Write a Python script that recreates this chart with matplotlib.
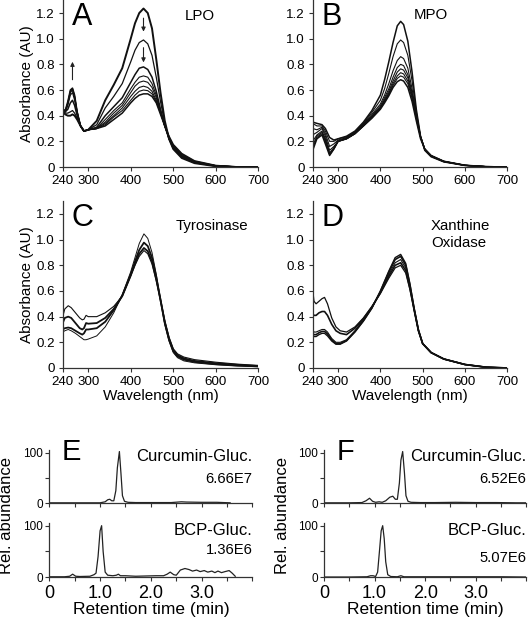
import numpy as np
import matplotlib
matplotlib.use("Agg")
import matplotlib.pyplot as plt

plt.rcParams['font.family'] = ['Liberation Sans', 'DejaVu Sans']

# ---------------- spectra data (absorbance, AU) ----------------
wl_a = [240, 246, 252, 258, 263, 268, 274, 282, 290, 300, 320, 340, 360, 380, 400, 410,
        420, 430, 440, 450, 460, 470, 480, 490, 500, 520, 550, 600, 650, 700]
lpo = [
    [.43, .41, .40, .40, .41, .40, .37, .32, .28, .29, .36, .52, .64, .77, 1.00, 1.12,
     1.20, 1.235, 1.20, 1.08, .84, .58, .36, .22, .14, .07, .03, .006, 0, 0],
    [.43, .42, .42, .43, .44, .42, .38, .32, .28, .29, .33, .46, .55, .65, .82, .91,
     .97, .99, .96, .87, .70, .51, .34, .22, .145, .075, .033, .007, 0, 0],
    [.44, .43, .45, .50, .52, .48, .40, .32, .28, .29, .31, .40, .47, .54, .66, .72,
     .77, .78, .76, .70, .59, .45, .32, .22, .15, .08, .036, .008, 0, 0],
    [.44, .43, .48, .56, .58, .52, .42, .32, .28, .29, .30, .37, .44, .50, .61, .66,
     .70, .71, .70, .65, .56, .44, .32, .22, .155, .085, .038, .009, .001, 0],
    [.45, .43, .49, .58, .60, .54, .42, .32, .28, .29, .30, .35, .42, .48, .58, .63,
     .66, .67, .66, .62, .54, .43, .32, .225, .16, .09, .04, .01, .001, 0],
    [.45, .43, .50, .59, .61, .55, .43, .32, .28, .29, .30, .34, .40, .46, .55, .59,
     .62, .63, .62, .59, .52, .42, .32, .23, .165, .095, .042, .01, .001, 0],
    [.45, .44, .50, .59, .61, .55, .43, .32, .28, .29, .30, .33, .39, .44, .52, .56,
     .59, .60, .595, .57, .51, .42, .32, .235, .17, .10, .045, .011, .001, 0],
    [.45, .44, .51, .60, .615, .56, .43, .32, .28, .29, .30, .32, .37, .42, .50, .535,
     .56, .57, .57, .55, .50, .41, .32, .24, .175, .105, .048, .012, .001, 0],
]
lpo_lw = [1.4, 0.9, 1.1, 0.8, 0.8, 0.8, 0.8, 1.1]

wl_b = [240, 250, 262, 270, 280, 290, 300, 320, 340, 360, 380, 400, 410, 420, 430, 440,
        448, 455, 465, 475, 485, 495, 505, 520, 550, 600, 650, 700]
mpo = [
    [.35, .34, .33, .30, .23, .21, .22, .24, .28, .35, .44, .56, .68, .82, .97, 1.10,
     1.135, 1.11, .98, .74, .45, .24, .13, .08, .04, .012, .003, 0],
    [.34, .32, .32, .28, .20, .20, .22, .235, .275, .34, .425, .52, .61, .73, .86, .96,
     .99, .97, .87, .67, .43, .24, .135, .082, .041, .012, .003, 0],
    [.30, .29, .31, .26, .16, .18, .21, .23, .27, .335, .41, .49, .56, .65, .75, .83,
     .86, .845, .77, .61, .41, .24, .14, .085, .042, .013, .003, 0],
    [.25, .27, .30, .24, .13, .16, .20, .225, .265, .33, .40, .475, .54, .61, .70, .775,
     .80, .79, .72, .58, .40, .235, .14, .086, .043, .013, .003, 0],
    [.20, .25, .28, .22, .11, .15, .20, .22, .26, .325, .395, .465, .525, .59, .67, .74,
     .765, .755, .695, .565, .39, .235, .14, .087, .044, .013, .003, 0],
    [.17, .24, .27, .21, .10, .145, .20, .22, .26, .32, .39, .46, .515, .575, .65, .71,
     .735, .725, .67, .55, .385, .235, .14, .088, .044, .013, .003, 0],
    [.15, .23, .26, .20, .095, .14, .20, .22, .26, .32, .385, .455, .51, .565, .635, .69,
     .71, .70, .65, .535, .375, .23, .14, .088, .045, .014, .003, 0],
    [.13, .22, .25, .18, .09, .14, .20, .22, .26, .32, .38, .45, .50, .555, .62, .665,
     .68, .67, .62, .51, .36, .22, .14, .09, .045, .014, .003, 0],
]
mpo_lw = [1.1, 0.8, 0.8, 0.8, 0.8, 0.8, 0.8, 1.1]

wl_c = [240, 245, 253, 260, 270, 280, 286, 290, 295, 300, 320, 340, 360, 380, 400, 410,
        420, 431, 440, 450, 460, 470, 480, 490, 500, 510, 525, 550, 600, 650, 700]
tyr = [
    [.40, .46, .485, .47, .43, .39, .375, .38, .41, .40, .40, .43, .48, .56, .72, .80,
     .87, .915, .89, .81, .68, .53, .37, .24, .15, .11, .085, .065, .045, .03, .02],
    [.35, .39, .40, .39, .35, .31, .30, .31, .35, .345, .35, .39, .46, .56, .72, .81,
     .89, .935, .91, .83, .69, .53, .36, .23, .14, .10, .075, .055, .037, .025, .015],
    [.30, .31, .315, .31, .29, .27, .26, .27, .30, .30, .31, .36, .45, .565, .73, .83,
     .92, .977, .95, .86, .71, .53, .35, .22, .13, .09, .065, .047, .03, .02, .012],
    [.28, .29, .30, .29, .27, .245, .23, .22, .22, .225, .25, .32, .43, .57, .75, .86,
     .97, 1.045, 1.01, .90, .73, .53, .34, .21, .12, .08, .055, .04, .025, .015, .01],
]
tyr_lw = [0.8, 1.3, 1.3, 0.7]

wl_d = [240, 243, 248, 255, 262, 268, 275, 285, 295, 305, 320, 340, 360, 380, 400, 420,
        435, 448, 460, 470, 480, 490, 500, 520, 550, 600, 650, 700]
xod = [
    [.61, .52, .50, .52, .54, .55, .50, .39, .32, .29, .28, .32, .39, .48, .58, .70,
     .78, .80, .74, .61, .45, .29, .19, .12, .07, .027, .006, 0],
    [.42, .41, .41, .43, .44, .44, .41, .34, .29, .27, .26, .31, .385, .475, .585, .715,
     .80, .82, .76, .62, .45, .29, .19, .12, .07, .027, .006, 0],
    [.30, .28, .28, .29, .30, .30, .28, .23, .20, .20, .22, .29, .375, .47, .59, .73,
     .82, .845, .78, .63, .455, .29, .19, .12, .07, .027, .006, 0],
    [.27, .26, .26, .275, .285, .285, .265, .22, .19, .19, .215, .285, .37, .47, .595, .745,
     .845, .87, .80, .645, .46, .295, .19, .12, .07, .027, .006, 0],
    [.25, .245, .245, .26, .27, .27, .25, .21, .185, .185, .21, .28, .365, .465, .60, .755,
     .86, .885, .815, .655, .465, .30, .19, .12, .07, .027, .006, 0],
]
xod_lw = [0.9, 1.2, 0.8, 1.2, 1.0]

# arrows in panel A: (x, y_start, y_end)
lpo_arrows = [(263, 0.68, 0.82), (430, 1.16, 1.055), (430, 0.93, 0.815)]

# ---------------- chromatogram data (rel. abundance) ----------------
e_cur_t = [0, 0.5, 1.0, 1.1, 1.15, 1.19, 1.23, 1.27, 1.31, 1.34, 1.38, 1.41, 1.44, 1.48,
           1.55, 1.7, 2.0, 2.4, 2.6, 2.7, 3.0, 3.3, 3.56]
e_cur_v = [1, 1, 1, 3, 7, 8, 5, 5, 25, 70, 102, 60, 15, 4, 2, 1.5, 1.5, 1.5, 3, 2.5, 2, 2, 1]
e_bcp_t = [0, 0.3, 0.4, 0.46, 0.52, 0.6, 0.8, 0.88, 0.92, 0.96, 1.0, 1.03, 1.06, 1.1, 1.15,
           1.25, 1.32, 1.36, 1.4, 1.5, 1.7, 1.9, 2.1, 2.25, 2.32, 2.38, 2.45, 2.5, 2.58, 2.67,
           2.75, 2.82, 2.9, 2.97, 3.05, 3.12, 3.2, 3.26, 3.32, 3.39, 3.46, 3.54, 3.6, 3.66]
e_bcp_v = [1, 1, 2, 6, 2, 1.5, 2, 5, 8, 40, 90, 100, 50, 10, 4, 3, 4, 6, 3, 3, 2, 2.5, 3, 3,
           6, 10, 5, 4, 14, 17, 15, 12, 14, 11, 13, 10, 12, 9, 12, 9, 11, 13, 8, 2]
f_cur_t = [0, 0.5, 0.75, 0.83, 0.9, 0.96, 1.02, 1.09, 1.15, 1.22, 1.3, 1.36, 1.41, 1.45,
           1.49, 1.52, 1.555, 1.59, 1.62, 1.66, 1.72, 1.9, 2.2, 2.6, 3.0, 3.4, 3.8, 4.0]
f_cur_v = [1, 1, 1.5, 5, 10, 4, 2, 3, 2, 5, 12, 14, 8, 8, 40, 85, 102, 60, 15, 4, 2, 1.5,
           1.5, 2, 1.5, 1.5, 1, 1]
f_bcp_t = [0, 0.5, 0.85, 0.92, 0.97, 1.02, 1.06, 1.1, 1.13, 1.16, 1.19, 1.22, 1.26, 1.32,
           1.45, 1.52, 1.58, 2.0, 2.5, 3.0, 3.5, 4.0]
f_bcp_v = [0.5, 0.5, 1, 3, 3, 1.5, 10, 55, 90, 100, 75, 30, 5, 1.5, 1, 3, 1, 1, 1, 1, 1, 0.5]

spec_xticks = [240, 300, 400, 500, 600, 700]
spec_yticks = [0, 0.2, 0.4, 0.6, 0.8, 1.0, 1.2]
spec_ylabels = ['0', '0.2', '0.4', '0.6', '0.8', '1.0', '1.2']
rt_ticks = [0, 0.5, 1.0, 1.5, 2.0, 2.5, 3.0, 3.5, 4.0]
rt_labels = ['0', '', '1.0', '', '2.0', '', '3.0', '', '']

spine_col = '#333333'
line_col = '#111111'


def style(ax):
    for s in ['top', 'right']:
        ax.spines[s].set_visible(False)
    for s in ['left', 'bottom']:
        ax.spines[s].set_color(spine_col)
        ax.spines[s].set_linewidth(0.9)
    ax.tick_params(direction='out', length=3, width=0.8, color=spine_col)


def spectrum_panel(rect, wl, curves, lws, letter, show_ylabel, show_xlabel):
    ax = fig.add_axes(rect)
    for vals, lw in zip(curves, lws):
        ax.plot(wl, vals, color=line_col, lw=lw)
    ax.set_xlim(240, 700)
    ax.set_ylim(0, 1.3)
    ax.set_xticks(spec_xticks)
    ax.set_yticks(spec_yticks)
    ax.set_yticklabels(spec_ylabels)
    style(ax)
    ax.tick_params(labelsize=9.6, pad=2.5)
    ax.text(0.045, 0.851, letter, transform=ax.transAxes, fontsize=22,
            ha='left', va='baseline')
    if show_ylabel:
        ax.set_ylabel('Absorbance (AU)', fontsize=11, labelpad=2)
    if show_xlabel:
        ax.set_xlabel('Wavelength (nm)', fontsize=11, labelpad=1)
    return ax


fig = plt.figure(figsize=(5.3, 6.22), dpi=100)

ax_a = spectrum_panel([0.1183, 0.7315, 0.3691, 0.2682], wl_a, lpo, lpo_lw, 'A', True, False)
ax_a.text(0.625, 0.881, 'LPO', transform=ax_a.transAxes, fontsize=10.8, va='baseline')
for x, y0, y1 in lpo_arrows:
    ax_a.annotate('', xy=(x, y1), xytext=(x, y0),
                  arrowprops=dict(arrowstyle='-|>', lw=0.8, color='#222222',
                                  mutation_scale=6, shrinkA=0, shrinkB=0))

ax_b = spectrum_panel([0.5900, 0.7315, 0.3670, 0.2682], wl_b, mpo, mpo_lw, 'B', False, False)
ax_b.text(0.52, 0.887, 'MPO', transform=ax_b.transAxes, fontsize=10.8, va='baseline')

ax_c = spectrum_panel([0.1183, 0.4084, 0.3691, 0.2682], wl_c, tyr, tyr_lw, 'C', True, True)
ax_c.text(0.578, 0.827, 'Tyrosinase', transform=ax_c.transAxes, fontsize=10.8, va='baseline')

ax_d = spectrum_panel([0.5900, 0.4084, 0.3670, 0.2682], wl_d, xod, xod_lw, 'D', False, True)
ax_d.text(0.607, 0.827, 'Xanthine', transform=ax_d.transAxes, fontsize=10.8, va='baseline')
ax_d.text(0.607, 0.723, 'Oxidase', transform=ax_d.transAxes, fontsize=10.8, va='baseline')


def chrom(rect, t, v, name, scale, name_y, scale_y, letter=None, bottom=False):
    ax = fig.add_axes(rect)
    ax.plot(t, v, color='#222222', lw=0.9)
    ax.set_xlim(0, 4.0)
    ax.set_ylim(0, 105)
    ax.set_xticks(rt_ticks)
    ax.set_yticks([0, 50, 100])
    ax.set_yticklabels(['0', '', '100'])
    style(ax)
    ax.tick_params(axis='y', labelsize=8.5, pad=1.5)
    if bottom:
        ax.set_xticklabels(rt_labels)
        ax.tick_params(axis='x', labelsize=13, pad=2.5)
        ax.set_xlabel('Retention time (min)', fontsize=12.5, labelpad=0)
    else:
        ax.set_xticklabels([])
    ax.text(1.0, name_y, name, transform=ax.transAxes, fontsize=12,
            ha='right', va='baseline')
    ax.text(1.0, scale_y, scale, transform=ax.transAxes, fontsize=10.6,
            ha='right', va='baseline')
    if letter:
        ax.text(0.06, 0.81, letter, transform=ax.transAxes, fontsize=21,
                ha='left', va='baseline')
    return ax


chrom([0.0930, 0.1908, 0.3834, 0.0857], e_cur_t, e_cur_v, 'Curcumin-Gluc.', '6.66E7', 0.80, 0.375, 'E')
chrom([0.0930, 0.0719, 0.3834, 0.0871], e_bcp_t, e_bcp_v, 'BCP-Gluc.', '1.36E6', 0.78, 0.43, bottom=True)
chrom([0.6113, 0.1908, 0.3819, 0.0857], f_cur_t, f_cur_v, 'Curcumin-Gluc.', '6.52E6', 0.80, 0.375, 'F')
chrom([0.6113, 0.0719, 0.3819, 0.0871], f_bcp_t, f_bcp_v, 'BCP-Gluc.', '5.07E6', 0.78, 0.29, bottom=True)

fig.text(0.013, 0.1707, 'Rel. abundance', rotation=90, fontsize=12, ha='center', va='center')
fig.text(0.533, 0.1707, 'Rel. abundance', rotation=90, fontsize=12, ha='center', va='center')

fig.savefig('out.png', dpi=100)
